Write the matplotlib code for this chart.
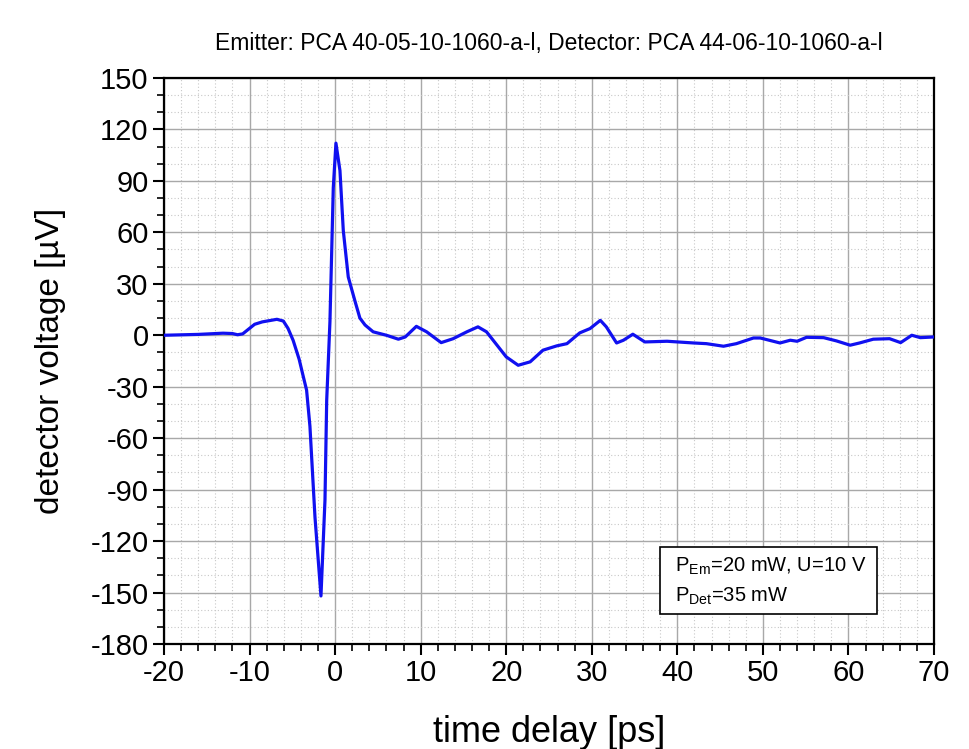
import matplotlib
matplotlib.use('Agg')
import matplotlib.pyplot as plt
from matplotlib.patches import Rectangle
from matplotlib.ticker import MultipleLocator

plt.rcParams['font.family'] = 'Liberation Sans'
plt.rcParams['mathtext.fontset'] = 'custom'
plt.rcParams['mathtext.rm'] = 'Liberation Sans'
plt.rcParams['mathtext.it'] = 'Liberation Sans'
plt.rcParams['axes.unicode_minus'] = False

# time delay [ps] and detector voltage [uV]
delay = [-20, -16, -13.1, -12, -11.4, -10.8, -10, -9.4, -8.5, -6.8, -6.05, -5.5,
         -4.9, -4.2, -3.72, -3.33, -2.94, -2.35, -1.65, -1.18, -0.98, -0.6,
         -0.21, 0.1, 0.57, 0.96, 1.54, 2.32, 2.9, 3.5, 4.45, 6.0, 7.4, 8.2,
         9.5, 10.7, 12.4, 13.8, 15.4, 16.7, 17.7, 20.0, 21.4, 22.8, 24.3,
         25.9, 27.1, 28.6, 29.8, 31.0, 31.7, 32.9, 33.7, 34.8, 36.2, 38.8,
         41.9, 43.4, 45.4, 46.9, 48.9, 49.7, 52.0, 53.2, 54.0, 55.1, 57.1,
         58.6, 60.2, 61.3, 62.9, 64.8, 66.1, 67.4, 68.4, 70]
voltage = [0, 0.5, 1.2, 1.0, 0.3, 0.8, 4, 6.4, 7.8, 9.3, 8.3, 4,
           -3, -14, -24, -32, -53, -106, -152, -96, -38, 8,
           86, 112, 96, 61, 34, 20, 10, 6, 2, 0, -2.3, -1,
           5.2, 2, -4.3, -2, 2, 4.9, 2, -12.6, -17.5, -15.5, -8.7,
           -6.2, -4.9, 1.4, 3.9, 8.7, 4.9, -4.5, -2.9, 0.6, -3.9, -3.5,
           -4.5, -4.9, -6.4, -4.9, -1.6, -1.6, -4.5, -2.9, -3.5, -1.2, -1.4,
           -3.3, -5.8, -4.5, -2.3, -2, -4.3, 0, -1.4, -1]

fig = plt.figure(figsize=(9.69, 7.49), dpi=100)
ax = fig.add_axes([0.1692, 0.1402, 0.7947, 0.7557])

ax.plot(delay, voltage, color='#1010f0', lw=2.3, zorder=3,
        solid_joinstyle='round')

ax.set_xlim(-20, 70)
ax.set_ylim(-180, 150)
ax.xaxis.set_major_locator(MultipleLocator(10))
ax.xaxis.set_minor_locator(MultipleLocator(2))
ax.yaxis.set_major_locator(MultipleLocator(30))
ax.yaxis.set_minor_locator(MultipleLocator(10))

ax.grid(which='major', color='#a8a8a8', lw=1.0, ls='-')
ax.grid(which='minor', color='#c8c8c8', lw=0.8, ls=(0, (1, 2)))
ax.set_axisbelow(True)

ax.tick_params(which='major', direction='out', length=8, width=1.5, labelsize=21, pad=3)
ax.tick_params(which='minor', direction='out', length=5, width=1.2)
for s in ax.spines.values():
    s.set_linewidth(1.6)

ax.set_xlabel('time delay [ps]', fontsize=26, labelpad=20)
ax.set_ylabel('detector voltage [µV]', fontsize=24, labelpad=18)
ax.set_title('Emitter: PCA 40-05-10-1060-a-l, Detector: PCA 44-06-10-1060-a-l',
             fontsize=16.5, pad=20, x=0.5)

# parameter box
ax.add_patch(Rectangle((0.644, 0.053), 0.282, 0.118, transform=ax.transAxes,
                       facecolor='white', edgecolor='black', lw=1.2, zorder=4))
ax.text(0.664, 0.138, r'P$_{\mathrm{Em}}$=20 mW, U=10 V', transform=ax.transAxes,
        fontsize=14.5, va='center', zorder=5)
ax.text(0.664, 0.084, r'P$_{\mathrm{Det}}$=35 mW', transform=ax.transAxes,
        fontsize=14.5, va='center', zorder=5)

fig.savefig('out.png', dpi=100)
